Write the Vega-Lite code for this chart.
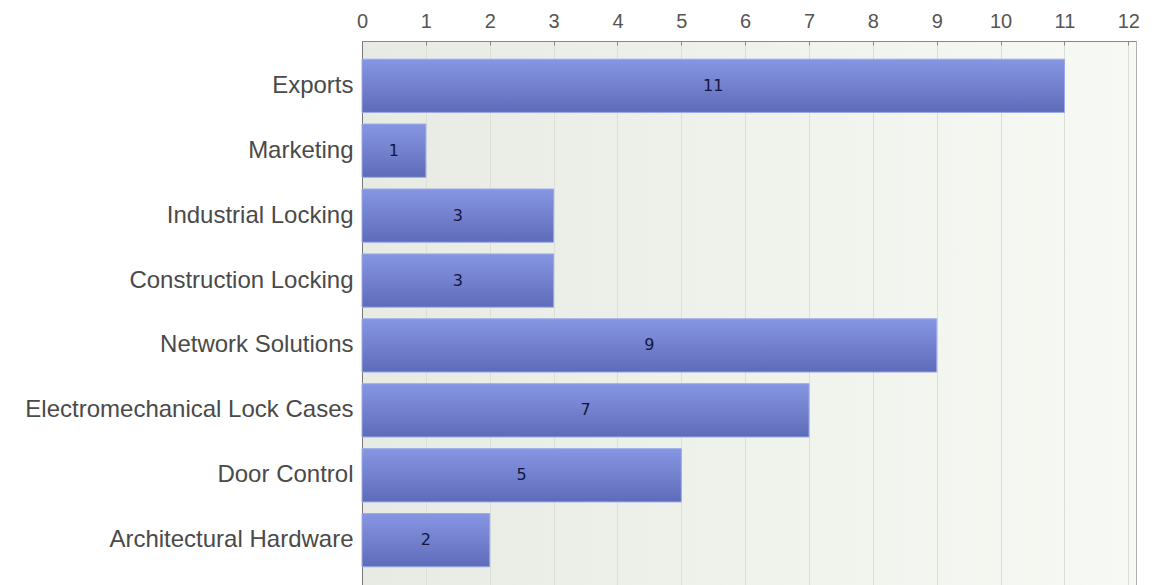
{
  "$schema": "https://vega.github.io/schema/vega-lite/v6.json",
  "autosize": {"type": "none"},
  "padding": {"left": 362, "top": 41, "right": 24, "bottom": 0},
  "width": 774,
  "height": 544,
  "background": "white",
  "config": {
    "view": {
      "stroke": "#b0b0b0",
      "strokeWidth": 1,
      "fill": {"gradient": "linear", "x1": 0, "y1": 0, "x2": 1, "y2": 0,
        "stops": [{"offset": 0, "color": "#e8ebe3"}, {"offset": 1, "color": "#f7faf4"}]}
    },
    "axis": {"labelFont": "Liberation Sans", "labelColor": "#4a4a4a"}
  },
  "data": {
    "values": [
      {"category": "Exports", "value": 11},
      {"category": "Marketing", "value": 1},
      {"category": "Industrial Locking", "value": 3},
      {"category": "Construction Locking", "value": 3},
      {"category": "Network Solutions", "value": 9},
      {"category": "Electromechanical Lock Cases", "value": 7},
      {"category": "Door Control", "value": 5},
      {"category": "Architectural Hardware", "value": 2}
    ]
  },
  "encoding": {
    "y": {
      "field": "category", "type": "nominal", "sort": null,
      "scale": {"paddingInner": 0.18, "paddingOuter": 0.28},
      "axis": {"title": null, "ticks": false, "labelPadding": 9, "labelFontSize": 24,
        "domainColor": "#777", "labelLimit": 400}
    }
  },
  "layer": [
    {
      "mark": {
        "type": "bar",
        "color": {"gradient": "linear", "x1": 0, "y1": 0, "x2": 0, "y2": 1,
          "stops": [{"offset": 0, "color": "#8796e2"}, {"offset": 1, "color": "#5e6bba"}]},
        "stroke": "#9aa8e8", "strokeWidth": 1
      },
      "encoding": {
        "x": {
          "field": "value", "type": "quantitative",
          "scale": {"domain": [0, 12.12], "nice": false, "zero": true},
          "axis": {"orient": "top", "title": null, "values": [0,1,2,3,4,5,6,7,8,9,10,11,12],
            "grid": true, "gridColor": "#dcdfd6", "tickSize": -4, "tickColor": "#888",
            "labelPadding": 14, "labelFontSize": 20, "labelColor": "#555",
            "domainColor": "#888", "format": "d", "labelFlush": false}
        }
      }
    },
    {
      "mark": {"type": "text", "align": "center", "baseline": "middle",
        "font": "DejaVu Sans", "fontSize": 16, "fontWeight": "normal", "color": "#14173f"},
      "encoding": {
        "x": {"value": {"expr": "scale('x', datum.value) / 2"}},
        "text": {"field": "value", "type": "quantitative"}
      }
    }
  ]
}
